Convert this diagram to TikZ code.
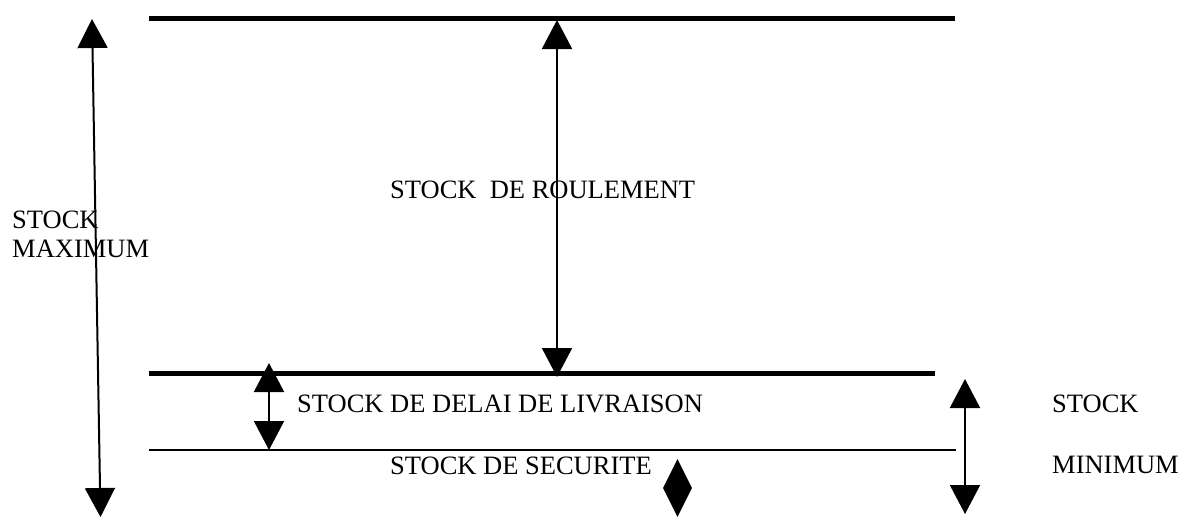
\documentclass[tikz,border=0pt]{standalone}
\usepackage{fontspec}
\setmainfont{Liberation Serif}
\usetikzlibrary{arrows.meta,shapes.geometric}
\tikzset{
  lbl/.style={anchor=base west,inner sep=0pt,font=\fontsize{26.5}{29}\selectfont},
  thickline/.style={line width=5pt},
  thinline/.style={line width=1.5pt},
  dim/.style={line width=2pt,{Triangle[width=30pt,length=29pt]}-{Triangle[width=30pt,length=29pt]}},
}
\begin{document}
\begin{tikzpicture}[x=1pt,y=-1pt]
\useasboundingbox (0,0) rectangle (1178,517);
% levels
\coordinate (l1a) at (149,18.5);  \coordinate (l1b) at (955,18.5);
\coordinate (l2a) at (149,373.5); \coordinate (l2b) at (935,373.5);
\coordinate (l3a) at (149,450);   \coordinate (l3b) at (956,450);
\draw[thickline] (l1a) -- (l1b);
\draw[thickline] (l2a) -- (l2b);
\draw[thinline] (l3a) -- (l3b);
% dimension arrows
\coordinate (maxT) at (92,19);   \coordinate (maxB) at (100.5,517);
\coordinate (roulT) at (557,20); \coordinate (roulB) at (557,377);
\coordinate (delT) at (269,363); \coordinate (delB) at (269,450);
\coordinate (minT) at (965,379); \coordinate (minB) at (965,514);
\draw[dim] (maxB) -- (maxT);
\draw[dim] (roulB) -- (roulT);
\draw[dim] (delB) -- (delT);
\draw[dim] (minB) -- (minT);
% diamond
\node[diamond,fill=black,inner sep=0pt,minimum width=29pt,minimum height=58pt] (secu) at (677.5,488) {};
% labels
\node[lbl] (tmax1) at (12,228) {STOCK};
\node[lbl] (tmax2) at (12,257) {MAXIMUM};
\node[lbl] (troul) at (390,198) {STOCK\ \ DE ROULEMENT};
\node[lbl] (tdel) at (297,412) {STOCK DE DELAI DE LIVRAISON};
\node[lbl] (tsec) at (390,474) {STOCK DE SECURITE};
\node[lbl] (tmin1) at (1052,412) {STOCK};
\node[lbl] (tmin2) at (1052,473) {MINIMUM};
\end{tikzpicture}
\end{document}
